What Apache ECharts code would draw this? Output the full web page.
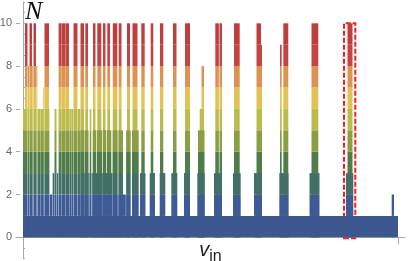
<!DOCTYPE html>
<html>
<head>
<meta charset="utf-8">
<script src="https://cdn.jsdelivr.net/npm/echarts@6/dist/echarts.min.js"></script>
<style>
html,body{margin:0;padding:0;background:#fff;}
#chart{width:415px;height:261px;}
</style>
</head>
<body>
<div id="chart"></div>
<script>
// v_in positions are in arbitrary units (0 .. 375), N is the count on the y axis.
// Each column: [start, end, top N]
const spikeStart = [0,
  0, 2, 4.8, 6.5, 9.3, 10.5, 13.3, 14.6, 17.3, 20.2, 21.5, 26.2, 26.8, 29.6, 31.5, 33.8,
  35.6, 39, 43, 46.3, 48.3, 50.5, 54.8, 57.5, 61.3, 62.3, 65.3, 66.7, 68.6, 70, 72.8, 74.3,
  78.6, 80, 82.8, 84.3, 87.3, 89.8, 94.6, 95.7, 98.8, 103.1, 104, 109, 109.5,
  57.5, 62, 69.7, 74, 79.7, 84, 89.7, 95.5,
  117, 118.3, 126.7, 127.7, 136.7, 137, 148.3, 150, 161, 162,
  174.3, 175, 176.7, 178.5, 191, 192.3, 196.5, 210, 211, 231, 233.5, 237.7,
  256.3, 257, 260.3, 286.5, 288.5, 323, 324.5, 368.7];
const spikeEnd = [375,
  2, 4.5, 6.3, 9, 10.3, 13, 14.3, 17, 20, 21.3, 26, 26.6, 29.3, 31.3, 33.5, 35.3,
  38.7, 42.7, 46, 48, 50.2, 54.5, 57.2, 61, 62, 65, 66.5, 68.3, 69.8, 72.5, 74, 78.3,
  79.8, 82.5, 84, 87, 89.5, 94.3, 95.4, 98.5, 102.8, 107.7, 107, 115.7, 114.5,
  61.5, 65.5, 73.3, 79, 83.3, 88.3, 94.5, 100,
  122.5, 121.7, 132, 130.3, 142.3, 140.3, 154.3, 153.5, 167, 167,
  181.7, 181.5, 181, 181, 199, 195.9, 199, 217.7, 216.7, 238.5, 238, 239,
  265.5, 258.7, 265.3, 296.5, 295.3, 330.3, 329.5, 371];
const spikeTop = [1,
  6, 10, 8, 10, 8, 10, 8, 6, 6, 7, 10, 6, 2, 3, 6, 3,
  10, 10, 10, 6, 6, 10, 6, 10, 3, 10, 3, 6, 3, 10, 3, 10,
  3, 10, 3, 10, 3, 10, 2, 10, 2, 5, 10, 5, 10,
  5, 5, 5, 5, 5, 5, 5, 5,
  3, 10, 3, 10, 3, 10, 3, 10, 3, 10,
  3, 5, 6, 8, 3, 10, 10, 3, 10, 3, 10, 9,
  3, 9, 10, 3, 10, 3, 10, 2];
const yTickLabels = [0, 2, 4, 6, 8, 10];
const yMinorTicks = [-1, -0.5, 0, 0.5, 1, 1.5, 2, 2.5, 3, 3.5, 4, 4.5, 5, 5.5, 6, 6.5, 7, 7.5, 8, 8.5, 9, 9.5, 10, 10.5, 11];
const xTicks = [0, 375];
const highlightRange = [321, 332.3];

const bandColors = ['#3d5791', '#3f5b95', '#437066', '#4f7c48', '#8c9e44',
  '#bcbc4e', '#e0c354', '#dc9352', '#c44444', '#c03d3d'];

const data = spikeStart.map((s, i) => [s, spikeEnd[i], spikeTop[i]]);

function renderItem(params, api) {
  const x0 = api.value(0), x1 = api.value(1), h = api.value(2);
  const children = [];
  for (let k = 0; k < Math.ceil(h); k++) {
    const top = Math.min(k + 1, h);
    const p0 = api.coord([x0, k]);
    const p1 = api.coord([x1, top]);
    children.push({
      type: 'rect',
      shape: { x: p0[0], y: p1[1], width: p1[0] - p0[0], height: p0[1] - p1[1] },
      style: { fill: bandColors[k] }
    });
  }
  return { type: 'group', children: children };
}

const chart = echarts.init(document.getElementById('chart'), null, { renderer: 'canvas' });
chart.setOption({
  animation: false,
  backgroundColor: '#ffffff',
  grid: { left: 16, right: 10, top: 1.9, height: 256.8, containLabel: false, outerBoundsMode: 'none' },
  xAxis: {
    type: 'value', min: -7, max: 382,
    offset: -21.4,
    axisLine: { show: true, onZero: false, lineStyle: { color: '#aaaaaa', width: 1 } },
    axisTick: { show: true, customValues: xTicks, length: 7, lineStyle: { color: '#aaaaaa' } },
    axisLabel: { show: false },
    splitLine: { show: false },
    name: '{v|v}{s|in}',
    nameLocation: 'middle',
    nameGap: 3,
    nameTextStyle: {
      rich: {
        v: { fontFamily: 'Liberation Sans', fontStyle: 'italic', fontSize: 20, color: '#222', verticalAlign: 'bottom', padding: [0, 0, 4, 0] },
        s: { fontFamily: 'Liberation Sans', fontSize: 16, color: '#222', verticalAlign: 'bottom' }
      }
    }
  },
  yAxis: [{
    type: 'value', min: -1, max: 11, interval: 0.5, position: 'left',
    axisLine: { show: true, lineStyle: { color: '#aaaaaa', width: 1 } },
    axisTick: { show: true, inside: true, length: 2, customValues: yMinorTicks, lineStyle: { color: '#aaaaaa' } },
    axisLabel: { show: true, customValues: yTickLabels, color: '#666666', fontSize: 11, fontFamily: 'Liberation Sans', margin: 4 },
    splitLine: { show: false },
    name: 'N',
    nameLocation: 'end',
    nameGap: -23,
    nameTextStyle: { fontFamily: 'Liberation Serif', fontStyle: 'italic', fontSize: 26, color: '#111', align: 'left', verticalAlign: 'bottom', padding: [0, 0, 0, 2] }
  }, {
    type: 'value', min: -1, max: 11, interval: 0.5, position: 'left', offset: 0,
    axisLine: { show: false },
    axisTick: { show: true, inside: true, length: 4, customValues: yTickLabels, lineStyle: { color: '#aaaaaa' } },
    axisLabel: { show: false },
    splitLine: { show: false }
  }],
  series: [{
    type: 'custom',
    renderItem: renderItem,
    encode: { x: [0, 1], y: 2 },
    data: data,
    clip: false,
    markArea: {
      silent: true,
      itemStyle: { color: 'rgba(0,0,0,0)', borderColor: '#ff1a1a', borderWidth: 2, borderType: [5, 2] },
      data: [[{ coord: [highlightRange[0], -0.05] }, { coord: [highlightRange[1], 10] }]]
    }
  }]
});
</script>
</body>
</html>
